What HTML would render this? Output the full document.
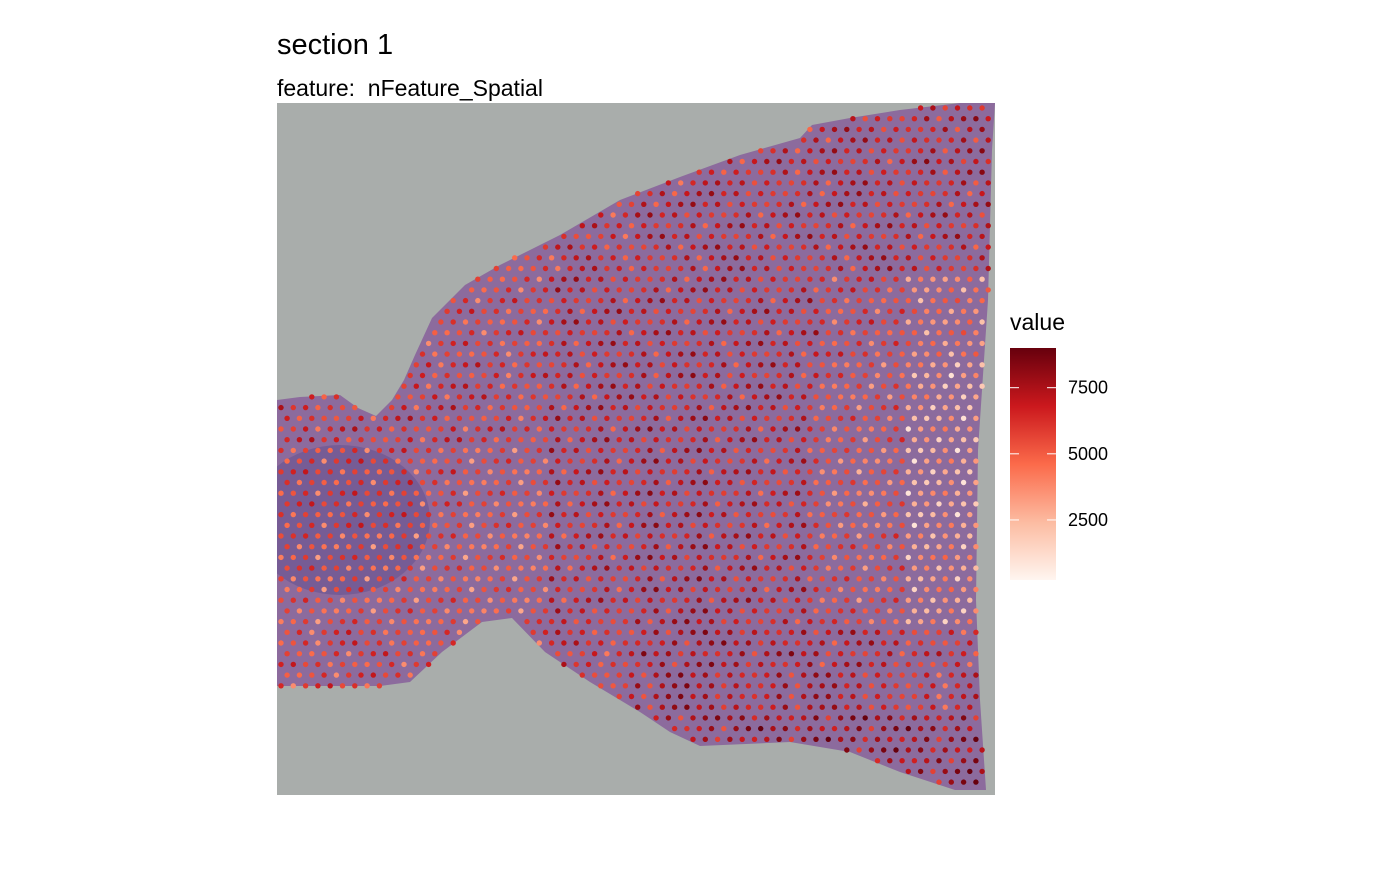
<!DOCTYPE html>
<html><head><meta charset="utf-8">
<style>
body{margin:0;background:#fff;width:1400px;height:865px;overflow:hidden;font-family:"Liberation Sans",Arial,sans-serif}
</style></head>
<body>
<svg id="chart" width="1400" height="865" xmlns="http://www.w3.org/2000/svg">
  <text x="277" y="54" font-size="29" fill="#000">section 1</text>
  <text x="277" y="96" font-size="23" fill="#000">feature:&#160; nFeature_Spatial</text>
  <defs>
    <clipPath id="panel"><rect x="277" y="103" width="718" height="692"/></clipPath>
    <linearGradient id="reds" x1="0" y1="1" x2="0" y2="0">
      <stop offset="0" stop-color="#fff5f0"/>
      <stop offset="0.25" stop-color="#fcbba1"/>
      <stop offset="0.5" stop-color="#fb6a4a"/>
      <stop offset="0.75" stop-color="#cb181d"/>
      <stop offset="1" stop-color="#67000d"/>
    </linearGradient>
  </defs>
  <rect x="277" y="103" width="718" height="692" fill="#a9adab"/>
  <polygon id="tissue" fill="#8a679c" opacity="0.95"
    points="277,400 300,397 340,395 358,408 376,416 392,400 404,380 415,355 432,318 465,285 500,265 560,235 620,200 680,177 740,155 800,138 812,125 850,118 900,110 960,103 995,103 992,150 988,300 978,450 976,600 980,700 986,790 955,790 900,772 850,752 790,742 700,746 670,732 640,712 590,682 545,652 512,618 482,622 442,652 410,682 380,686 277,686"/>
  <ellipse clip-path="url(#panel)" cx="340" cy="520" rx="90" ry="75" fill="#5a4c8c" opacity="0.45"/>
  <g id="spots"></g>
  <text x="1010" y="330" font-size="23" fill="#000">value</text>
  <rect x="1010" y="348" width="46" height="232" fill="url(#reds)"/>
  <g id="legend-ticks"></g>
</svg>
<script>
const legendTicks = [2500, 5000, 7500];
const legendMin = 230, legendMax = 9000;
// coarse regional mean values (rows top->bottom, cols left->right)
const regionValues = [
  [5500,5500,5500,5500,6000,6500,6500,6800],
  [5500,5500,5500,6000,6500,6500,6500,6500],
  [5500,5500,5500,6500,6500,6500,5500,4000],
  [6000,6000,5800,6500,6700,6500,5000,2800],
  [5500,5500,5000,6500,6700,6300,4500,2700],
  [5000,5000,4800,6300,6800,6500,5000,3300],
  [5500,5500,5500,6000,7000,7000,6500,6000],
  [5500,5500,5500,6500,7000,7500,7500,7500]
];
const spotVariation = [0, 900, -1200, 400, -600, 1500, -300, 700, -1800, 200, 1100, -900];

const svg = document.getElementById('chart');
const NS = 'http://www.w3.org/2000/svg';
const barY = v => 580 - (v - legendMin) / (legendMax - legendMin) * 232;
const lt = document.getElementById('legend-ticks');
legendTicks.forEach(t => {
  const y = barY(t);
  [[1010,1019],[1047,1056]].forEach(([a,b]) => {
    const l = document.createElementNS(NS,'line');
    
    
    l.setAttribute('x1',a); l.setAttribute('x2',b); l.setAttribute('y1',y); l.setAttribute('y2',y);
    l.setAttribute('stroke','#fff'); l.setAttribute('stroke-width','1');
    lt.appendChild(l);
  });
  const tx = document.createElementNS(NS,'text');
  
  
  tx.setAttribute('x',1068); tx.setAttribute('y',y+6); tx.setAttribute('font-size','18');
  tx.textContent = t;
  lt.appendChild(tx);
});

const stops = [[0,[255,245,240]],[0.25,[252,187,161]],[0.5,[251,106,74]],[0.75,[203,24,29]],[1,[103,0,13]]];
function color(v){
  let t = Math.max(0, Math.min(1, (v - legendMin)/(legendMax - legendMin)));
  for (let i=1;i<stops.length;i++){
    if (t <= stops[i][0]){
      const [t0,c0]=stops[i-1],[t1,c1]=stops[i];
      const f=(t-t0)/(t1-t0);
      return 'rgb('+c0.map((c,k)=>Math.round(c+(c1[k]-c)*f)).join(',')+')';
    }
  }
  return 'rgb(103,0,13)';
}
const poly = document.getElementById('tissue').getAttribute('points').trim().split(/\s+/).map(p=>p.split(',').map(Number));
function inside(x,y){
  let c=false;
  for(let i=0,j=poly.length-1;i<poly.length;j=i++){
    const [xi,yi]=poly[i],[xj,yj]=poly[j];
    if(((yi>y)!=(yj>y)) && (x < (xj-xi)*(y-yi)/(yj-yi)+xi)) c=!c;
  }
  return c;
}
const g = document.getElementById('spots');
let k = 0;
for (let r=0; ; r++){
  const y = 108 + r*10.7;
  if (y > 790) break;
  for (let x = 281 + (r%2)*6.15; x < 993; x += 12.3){
    if (!inside(x,y)) continue;
    const ci = Math.min(7, Math.floor((x-277)/90)), ri = Math.min(7, Math.floor((y-103)/86.5));
    const v = regionValues[ri][ci] + spotVariation[(k*7 + r) % spotVariation.length];
    k++;
    const c = document.createElementNS(NS,'circle');
    
    
    c.setAttribute('cx',x.toFixed(1)); c.setAttribute('cy',y.toFixed(1)); c.setAttribute('r','2.7');
    c.setAttribute('fill',color(v));
    g.appendChild(c);
  }
}
</script>
</body></html>
